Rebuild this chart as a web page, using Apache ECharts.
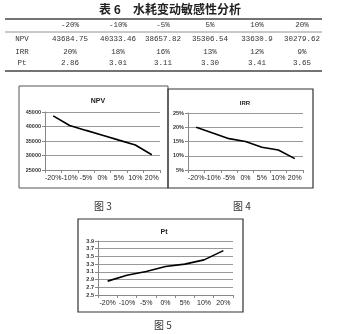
<!DOCTYPE html>
<html><head><meta charset="utf-8">
<script src="https://cdn.jsdelivr.net/npm/echarts@6/dist/echarts.min.js"></script>
<style>html,body{margin:0;padding:0;background:#fff}#c{width:340px;height:334px}</style>
</head><body><div id="c"></div>
<script>
// Table data
const tableTitle = '表 6\u3000水耗变动敏感性分析';
const tableHeaders = ['-20%', '-10%', '-5%', '5%', '10%', '20%'];
const tableRowLabels = ['NPV', 'IRR', 'Pt'];
const tableNPV = ['43684.75', '40333.46', '38657.82', '35306.54', '33630.9', '30279.62'];
const tableIRR = ['20%', '18%', '16%', '13%', '12%', '9%'];
const tablePt = ['2.86', '3.01', '3.11', '3.30', '3.41', '3.65'];

// Chart data
const categories = ['-20%', '-10%', '-5%', '0%', '5%', '10%', '20%'];
const npvValues = [43684.75, 40333.46, 38657.82, 37000, 35306.54, 33630.9, 30279.62];
const irrValues = [20, 18, 16, 15, 13, 12, 9];
const ptValues = [2.86, 3.01, 3.11, 3.24, 3.30, 3.41, 3.65];
const captions = ['图 3', '图 4', '图 5'];

const mono = '"Liberation Mono","DejaVu Sans Mono",monospace';
const cjk = '"Noto Sans CJK SC",sans-serif';
const sans = '"Liberation Sans",Arial,sans-serif';

const colX = [70, 118, 163, 210, 257, 302];
const rowY = [39, 52, 63];
const graphics = [];
graphics.push({type:'text', left: 'center', top: 3, style:{text: tableTitle, font: 'bold 12px ' + cjk, fill:'#222'}});
graphics.push({type:'line', shape:{x1:5,y1:19,x2:322,y2:19}, style:{stroke:'#444', lineWidth:1.5}});
graphics.push({type:'line', shape:{x1:5,y1:32,x2:322,y2:32}, style:{stroke:'#777', lineWidth:0.8}});
graphics.push({type:'line', shape:{x1:5,y1:71,x2:322,y2:71}, style:{stroke:'#444', lineWidth:1.5}});
tableHeaders.forEach((h,i)=>graphics.push({type:'text', x:colX[i], y:25, style:{text:h, font:'7.5px '+mono, fill:'#333', align:'center', verticalAlign:'middle'}}));
const rows = [tableNPV, tableIRR, tablePt];
tableRowLabels.forEach((l,r)=>{
  graphics.push({type:'text', x:22, y:rowY[r], style:{text:l, font:'7.5px '+mono, fill:'#333', align:'center', verticalAlign:'middle'}});
  rows[r].forEach((v,i)=>graphics.push({type:'text', x:colX[i], y:rowY[r], style:{text:v, font:'7.5px '+mono, fill:'#333', align:'center', verticalAlign:'middle'}}));
});
// chart boxes
graphics.push({type:'rect', shape:{x:19,y:86,width:149,height:102}, style:{fill:'none', stroke:'#555', lineWidth:1}});
graphics.push({type:'rect', shape:{x:168,y:89,width:145,height:99}, style:{fill:'none', stroke:'#333', lineWidth:1.2}});
graphics.push({type:'rect', shape:{x:78,y:219,width:165,height:93}, style:{fill:'none', stroke:'#333', lineWidth:1.2}});
// captions
const capPos = [[103,206],[242,206],[163,325]];
captions.forEach((c,i)=>graphics.push({type:'text', x:capPos[i][0], y:capPos[i][1], style:{text:c, font:'10px '+cjk, fill:'#333', align:'center', verticalAlign:'middle'}}));

function xAx(gi){return {type:'category', gridIndex:gi, data:categories, boundaryGap:true,
  axisLine:{lineStyle:{color:'#888'}}, axisTick:{show:true, length:3, lineStyle:{color:'#888'}},
  axisLabel:{interval:0, fontSize:7, color:'#222', fontFamily:sans, margin:5}};}
function yAx(gi,min,max,intv,fmt){return {type:'value', gridIndex:gi, min:min, max:max, interval:intv,
  axisLine:{show:true, lineStyle:{color:'#888'}}, axisTick:{show:true, length:3, lineStyle:{color:'#888'}},
  splitLine:{lineStyle:{color:'#999', width:1}},
  axisLabel:{fontSize:5.5, fontWeight:'bold', color:'#333', fontFamily:sans, margin:4, formatter:fmt}};}
function ser(gi,data){return {type:'line', xAxisIndex:gi, yAxisIndex:gi, data:data, symbol:'none',
  lineStyle:{color:'#000', width:1.6}, animation:false};}

const chart = echarts.init(document.getElementById('c'));
chart.setOption({
  animation:false,
  title:[
    {text:'NPV', left:93, top:93, textAlign:'center', textStyle:{fontSize:7, fontWeight:'bold', color:'#222', fontFamily:sans}},
    {text:'IRR', left:240, top:95, textAlign:'center', textStyle:{fontSize:6, fontWeight:'bold', color:'#222', fontFamily:sans}},
    {text:'Pt', left:159, top:224, textAlign:'center', textStyle:{fontSize:7, fontWeight:'bold', color:'#222', fontFamily:sans}}
  ],
  grid:[
    {left:45, top:112, width:115, height:58},
    {left:188, top:113, width:115, height:57},
    {left:98, top:241, width:135, height:54}
  ],
  xAxis:[xAx(0), xAx(1), xAx(2)],
  yAxis:[
    yAx(0,25000,45000,5000,v=>String(v)),
    yAx(1,5,25,5,'{value}%'),
    yAx(2,2.5,3.9,0.2,v=>v.toFixed(1))
  ],
  series:[ser(0,npvValues), ser(1,irrValues), ser(2,ptValues)],
  graphic:graphics
});
</script></body></html>
